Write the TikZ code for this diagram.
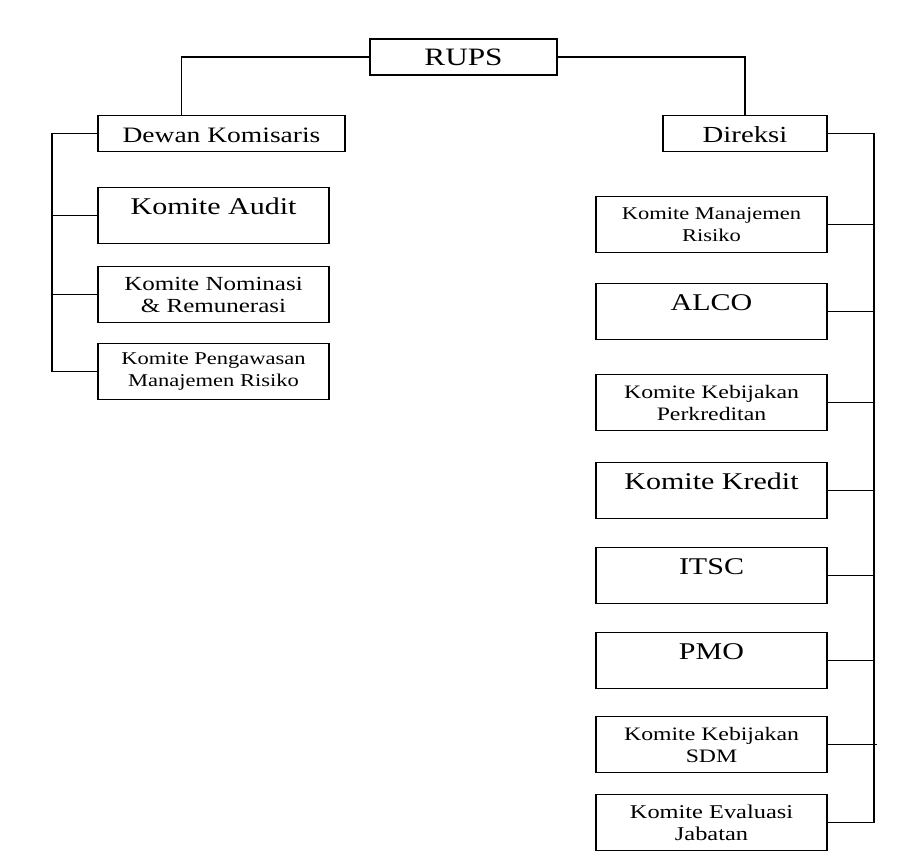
\documentclass[tikz,border=0pt]{standalone}
\usepackage{fontspec}
\setmainfont{Liberation Serif}[FakeStretch=1.25]
\usetikzlibrary{positioning}
\tikzstyle{headbox} = [rectangle, draw, line width=1.4pt, inner sep=0pt, outer sep=0pt,
    text height=27pt, text depth=9pt, font=\fontsize{22}{26}\selectfont]
\tikzstyle{komite} = [rectangle, draw, line width=1.4pt, inner sep=0pt, outer sep=0pt,
    minimum width=231pt, text height=27pt, text depth=29pt, font=\fontsize{24}{28}\selectfont]
\tikzstyle{komite2} = [rectangle, draw, line width=1.4pt, inner sep=0pt, outer sep=0pt,
    minimum width=231pt, minimum height=56pt, align=center, font=\fontsize{19}{22}\selectfont]
\tikzstyle{line} = [draw, line width=1.4pt]

\begin{document}
\begin{tikzpicture}[x=1pt, y=-1pt, node distance=30pt]
    \useasboundingbox (0,0) rectangle (920,866);
    % Place nodes
    \node [headbox, minimum width=187pt, font=\fontsize{25}{28}\selectfont] (rups) at (463.5,57) {RUPS};
    \node [headbox, minimum width=247pt] (dewan) at (221.5,133.5) {Dewan Komisaris};
    \node [headbox, minimum width=164pt, font=\fontsize{23}{26}\selectfont] (direksi) at (745,133.5) {Direksi};

    \node [komite, below=36pt of dewan.south west, anchor=north west] (audit) {Komite Audit};
    \node [komite2, below=23pt of audit, font=\fontsize{20}{22}\selectfont] (nominasi) {Komite Nominasi\\\& Remunerasi};
    \node [komite2, below=21pt of nominasi, font=\fontsize{18}{22}\selectfont] (pengawasan) {Komite Pengawasan\\Manajemen Risiko};

    \node [komite2, below=45pt of direksi.south east, anchor=north east, font=\fontsize{18}{22}\selectfont] (manrisk) {Komite Manajemen\\Risiko};
    \node [komite, below=31pt of manrisk] (alco) {ALCO};
    \node [komite2, below=35pt of alco] (kebkredit) {Komite Kebijakan\\Perkreditan};
    \node [komite, below=32pt of kebkredit] (kredit) {Komite Kredit};
    \node [komite, below=29pt of kredit] (itsc) {ITSC};
    \node [komite, below=29pt of itsc] (pmo) {PMO};
    \node [komite2, below=28pt of pmo] (kebsdm) {Komite Kebijakan\\SDM};
    \node [komite2, below=22pt of kebsdm, font=\fontsize{19.5}{22}\selectfont] (evaluasi) {Komite Evaluasi\\Jabatan};

    % Draw edges
    \path [line] (rups.west) -| ([xshift=-40pt]dewan.north);
    \path [line] (rups.east) -| (direksi.north);
    \path [line] (dewan.west) -| ([xshift=-46pt]pengawasan.west) -- (pengawasan.west);
    \foreach \k in {audit, nominasi}
        \path [line] (\k.west) -- ([xshift=-46pt]\k.west);
    \path [line] (direksi.east) -| ([xshift=47pt]evaluasi.east) -- (evaluasi.east);
    \foreach \k in {manrisk, alco, kebkredit, kredit, itsc, pmo}
        \path [line] (\k.east) -- ([xshift=47pt]\k.east);
    \path [line] (kebsdm.east) -- ([xshift=50pt]kebsdm.east);
\end{tikzpicture}
\end{document}
